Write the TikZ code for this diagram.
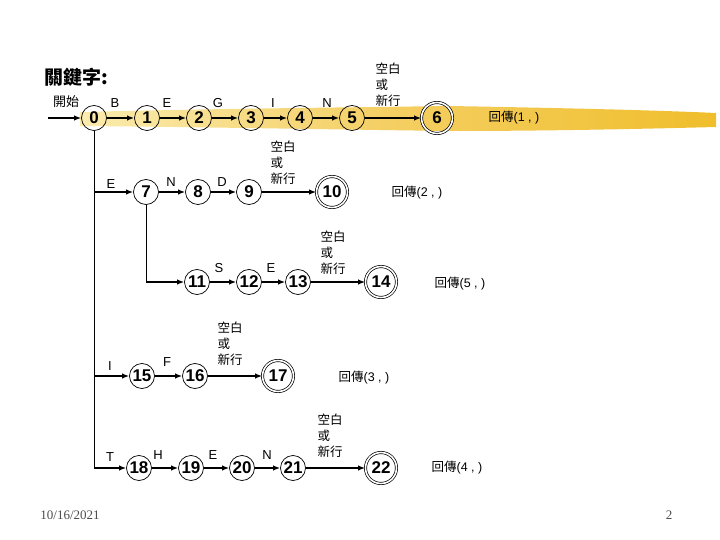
\documentclass[tikz,border=0pt]{standalone}
\usepackage{fontspec}
\setmainfont{Liberation Sans}
\newfontfamily\cjk{Noto Sans CJK TC}
\newfontfamily\serifft{Liberation Serif}
\usetikzlibrary{arrows.meta}
\definecolor{hl}{HTML}{F0BE2C}
\definecolor{hlfaint}{HTML}{FBEBAE}
\begin{document}
\begin{tikzpicture}[x=1pt,y=-1pt,
  st/.style={circle, draw, line width=0.7pt, minimum size=25pt, inner sep=0pt, font=\bfseries\fontsize{17}{17}\selectfont},
  acc/.style={circle, draw, double, line width=0.7pt, double distance=1.6pt, minimum size=31pt, inner sep=0pt, font=\bfseries\fontsize{17}{17}\selectfont},
  arr/.style={-{Latex[length=7pt,width=5.5pt]}, line width=1.6pt},
  vline/.style={line width=0.9pt},
  lbl/.style={font=\fontsize{13}{13}\selectfont, inner sep=0pt},
  ws/.style={align=left, font=\cjk\fontsize{12.5}{16}\selectfont, inner sep=0pt},
  ret/.style={font=\fontsize{12.5}{13}\selectfont, inner sep=0pt},
  foot/.style={font=\serifft\fontsize{13}{13}\selectfont, text=black!70, inner sep=0pt}]
\useasboundingbox (0,0) rectangle (720,540);
% highlighter stroke
\shade[left color=hlfaint, right color=hl, middle color=hl!75]
  (80,112) .. controls (200,109) and (300,108) .. (450,106)
  .. controls (560,108) and (650,110) .. (716,113)
  -- (716,127) .. controls (600,130) and (520,131) .. (450,131)
  .. controls (300,129) and (200,127) .. (80,126) -- cycle;
% title
\node[font=\cjk\bfseries\fontsize{19}{19}\selectfont, inner sep=0pt] (title) at (76,77) {關鍵字:};
% row 1
\coordinate (start) at (48,118);
\node[st] (n0) at (94,118) {0};
\node[st] (n1) at (147,118) {1};
\node[st] (n2) at (199,118) {2};
\node[st] (n3) at (251,118) {3};
\node[st] (n4) at (300,118) {4};
\node[st] (n5) at (352,118) {5};
\node[acc] (n6) at (437,118) {6};
\node[lbl, font=\cjk\fontsize{13}{13}\selectfont] (lstart) at (66,102) {開始};
\node[lbl] (l1) at (115,103) {B};
\node[lbl] (l2) at (167,103) {E};
\node[lbl] (l3) at (218,103) {G};
\node[lbl] (l4) at (273,103) {I};
\node[lbl] (l5) at (327,103) {N};
\node[ws] (w6) at (388,85) {空白\\或\\新行};
\node[ret] (r6) at (514,118) {{\cjk 回傳}(1 , )};
\draw[arr] (start) -- (n0);
\draw[arr] (n0) -- (n1);
\draw[arr] (n1) -- (n2);
\draw[arr] (n2) -- (n3);
\draw[arr] (n3) -- (n4);
\draw[arr] (n4) -- (n5);
\draw[arr] (n5) -- (n6);
% row 2
\node[st] (n7) at (146,192) {7};
\node[st] (n8) at (198,192) {8};
\node[st] (n9) at (249,192) {9};
\node[acc] (n10) at (332,192) {10};
\node[lbl] (l7) at (111,184) {E};
\node[lbl] (l8) at (171,182) {N};
\node[lbl] (l9) at (222,182) {D};
\node[ws] (w10) at (283,163) {空白\\或\\新行};
\node[ret] (r10) at (417,193) {{\cjk 回傳}(2 , )};
% row 3
\node[st] (n11) at (197,282) {11};
\node[st] (n12) at (249,282) {12};
\node[st] (n13) at (298,282) {13};
\node[acc] (n14) at (381,282) {14};
\node[lbl] (l12) at (219,268) {S};
\node[lbl] (l13) at (271,268) {E};
\node[ws] (w14) at (333,253) {空白\\或\\新行};
\node[ret] (r14) at (460,284) {{\cjk 回傳}(5 , )};
% row 4
\node[st] (n15) at (142,376) {15};
\node[st] (n16) at (195,376) {16};
\node[acc] (n17) at (278,376) {17};
\node[lbl] (l15) at (110,366) {I};
\node[lbl] (l16) at (167,362) {F};
\node[ws] (w17) at (230,344) {空白\\或\\新行};
\node[ret] (r17) at (364,378) {{\cjk 回傳}(3 , )};
% row 5
\node[st] (n18) at (139,468) {18};
\node[st] (n19) at (191,468) {19};
\node[st] (n20) at (242,468) {20};
\node[st] (n21) at (293,468) {21};
\node[acc] (n22) at (381,468) {22};
\node[lbl] (l18) at (110,457) {T};
\node[lbl] (l19) at (158,455) {H};
\node[lbl] (l20) at (213,455) {E};
\node[lbl] (l21) at (267,455) {N};
\node[ws] (w22) at (330,436) {空白\\或\\新行};
\node[ret] (r22) at (457,468) {{\cjk 回傳}(4 , )};
% branch structure
\coordinate (b7) at (n0.south |- n7);
\coordinate (b15) at (n0.south |- n15);
\coordinate (b18) at (n0.south |- n18);
\coordinate (b11) at (n7.south |- n11);
\draw[vline] (n0.south) -- (b18);
\draw[arr] (b7) -- (n7);
\draw[arr] (n7) -- (n8);
\draw[arr] (n8) -- (n9);
\draw[arr] (n9) -- (n10);
\draw[vline] (n7.south) -- (b11);
\draw[arr] (b11) -- (n11);
\draw[arr] (n11) -- (n12);
\draw[arr] (n12) -- (n13);
\draw[arr] (n13) -- (n14);
\draw[arr] (b15) -- (n15);
\draw[arr] (n15) -- (n16);
\draw[arr] (n16) -- (n17);
\draw[arr] (b18) -- (n18);
\draw[arr] (n18) -- (n19);
\draw[arr] (n19) -- (n20);
\draw[arr] (n20) -- (n21);
\draw[arr] (n21) -- (n22);
% footer
\node[foot] (date) at (70,515) {10/16/2021};
\node[foot] (page) at (669,515) {2};
\end{tikzpicture}
\end{document}
